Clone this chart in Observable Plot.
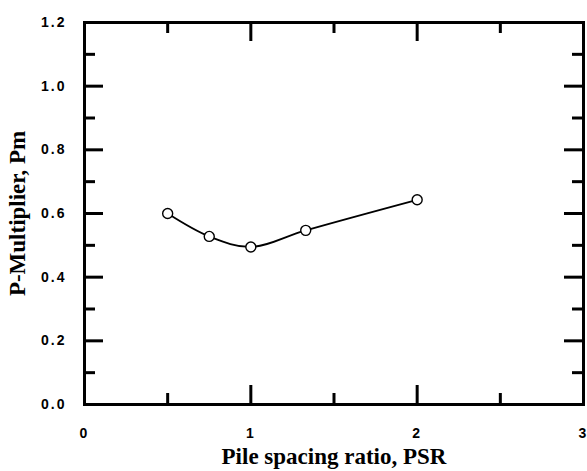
<!DOCTYPE html>
<html>
<head>
<meta charset="utf-8">
<script src="https://cdn.jsdelivr.net/npm/d3@7"></script>
<script src="https://cdn.jsdelivr.net/npm/@observablehq/plot@0.6"></script>
<style>
  html, body { margin: 0; padding: 0; background: #fff; }
</style>
</head>
<body>
<div id="chart"></div>
<script>
const psr = [0.5, 0.75, 1.0, 1.33, 2.0];
const pm = [0.600, 0.528, 0.495, 0.547, 0.643];
const xMajor = [0, 1, 2, 3];
const xMinor = [0.5, 1.5, 2.5];
const yMajor = [0, 0.2, 0.4, 0.6, 0.8, 1.0, 1.2];
const yMinor = [0.1, 0.3, 0.5, 0.7, 0.9, 1.1];
const xTickLabels = ["0", "1", "2", "3"];
const yTickLabels = ["0.0", "0.2", "0.4", "0.6", "0.8", "1.0", "1.2"];
const xTitle = "Pile spacing ratio, PSR";
const yTitle = "P-Multiplier, Pm";

const data = psr.map((x, i) => ({x, y: pm[i]}));
const xLab = xMajor.map((v, i) => ({v, t: xTickLabels[i]}));
const yLab = yMajor.map((v, i) => ({v, t: yTickLabels[i]}));

const W = 587, H = 471;
const mL = 84, mR = 4, mT = 22, mB = 67;
const pw = W - mL - mR, ph = H - mT - mB;
const majL = 19, minL = 11;

const tickStyle = {stroke: "black", strokeWidth: 3};
const serif = "Liberation Serif";

const chart = Plot.plot({
  width: W,
  height: H,
  marginLeft: mL,
  marginRight: mR,
  marginTop: mT,
  marginBottom: mB,
  x: {domain: [0, 3], axis: null},
  y: {domain: [0, 1.2], axis: null},
  style: {
    background: "white",
    overflow: "visible",
    fontFamily: "'Liberation Sans', Arial, sans-serif",
    fontSize: "14px",
    fontWeight: "bold",
    letterSpacing: "2px"
  },
  marks: [
    Plot.tickX(xMajor, {x: d => d, insetTop: ph - majL, ...tickStyle}),
    Plot.tickX(xMinor, {x: d => d, insetTop: ph - minL, ...tickStyle}),
    Plot.tickX(xMajor, {x: d => d, insetBottom: ph - majL, ...tickStyle}),
    Plot.tickX(xMinor, {x: d => d, insetBottom: ph - minL, ...tickStyle}),
    Plot.tickY(yMajor, {y: d => d, insetRight: pw - majL, ...tickStyle}),
    Plot.tickY(yMinor, {y: d => d, insetRight: pw - minL, ...tickStyle}),
    Plot.tickY(yMajor, {y: d => d, insetLeft: pw - majL, ...tickStyle}),
    Plot.tickY(yMinor, {y: d => d, insetLeft: pw - minL, ...tickStyle}),
    Plot.frame({stroke: "black", strokeWidth: 3}),
    Plot.text(xLab, {x: "v", y: 0, dy: 29, text: "t", fill: "black"}),
    Plot.text(yLab, {x: 0, y: "v", dx: -18, text: "t", textAnchor: "end", fill: "black"}),
    Plot.line(data, {x: "x", y: "y", curve: "catmull-rom", stroke: "black", strokeWidth: 1.8}),
    Plot.dot(data, {x: "x", y: "y", r: 5, stroke: "black", strokeWidth: 1.4, fill: "white"}),
    Plot.text([xTitle], {
      frameAnchor: "bottom", dy: 52, lineAnchor: "middle", textAnchor: "middle", text: d => d,
      fontFamily: serif, fontWeight: "bold", fontSize: 23, fill: "black"
    }),
    Plot.text([yTitle], {
      frameAnchor: "left", dx: -67, rotate: -90, lineAnchor: "middle", textAnchor: "middle", text: d => d,
      fontFamily: serif, fontWeight: "bold", fontSize: 23, fill: "black"
    })
  ]
});

chart.querySelectorAll("text").forEach(t => {
  const s = t.textContent.trim();
  if (s === xTitle || s === yTitle) t.style.letterSpacing = "0px";
});
document.getElementById("chart").appendChild(chart);
</script>
</body>
</html>
